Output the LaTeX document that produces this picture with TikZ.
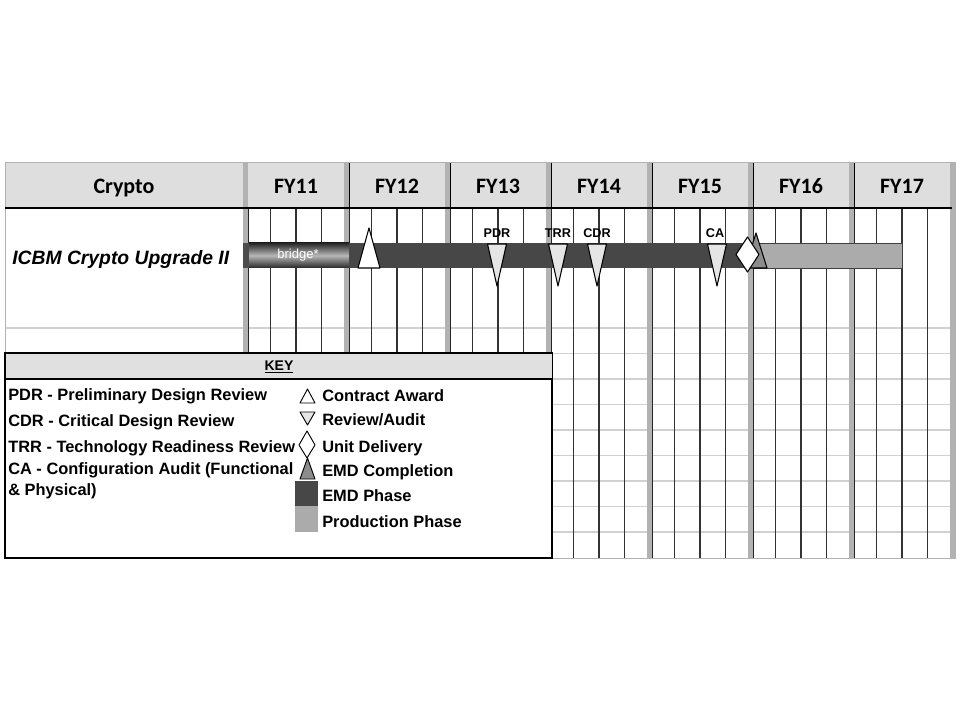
\documentclass[tikz,border=0pt]{standalone}
\usepackage{fontspec}
\setmainfont{Liberation Sans}
\newfontfamily\hdfont{Carlito}
\usepackage{tikz}

\begin{document}
\begin{tikzpicture}[x=0.75pt,y=-0.75pt,
    fytext/.style={anchor=base,font=\hdfont\fontsize{16.5}{18}\selectfont\bfseries},
    keytext/.style={anchor=base west,inner sep=0pt,font=\fontsize{12.3}{14}\selectfont\bfseries},
    mslabel/.style={font=\fontsize{9.5}{11}\selectfont\bfseries},
    review/.style={draw=black,fill=black!10,line width=0.8pt,line join=round},
    msmark/.style={draw=black,line width=0.8pt,line join=round}]
    \fill[white] (0,0) rectangle (960,720);
    \useasboundingbox (0,0) rectangle (960,720);

    \fill[black!13] (5,162) rectangle (952,208);
    \foreach \y in {328,353.5,379,404.5,430,455.5,481,506.5,532}
        \draw[black!18,line width=1.1pt] (5,\y) -- (952,\y);
    \foreach \k in {0,...,6}
        \foreach \q in {1,2,3}
            \draw[black!80,line width=0.9pt] ({245.5+101*\k+25.25*\q},208) -- ({245.5+101*\k+25.25*\q},558);
    \foreach \k in {0,...,7} {
        \fill[black!30] ({245.5+101*\k-2.5},162) rectangle ({245.5+101*\k+2.5},558);
        \draw[black!85,line width=0.9pt] ({245.5+101*\k+2.8},208) -- ({245.5+101*\k+2.8},558);
    }
    \foreach \k in {1,...,7}
        \draw[black,line width=1.1pt] ({245.5+101*\k+2.8},162) -- ({245.5+101*\k+2.8},208);
    \draw[black!30] (5,162) rectangle (955,558);
    \draw[black,line width=1.3pt] (5,208) -- (952,208);

    \node[fytext] (crypto) at (124,194) {Crypto};
    \foreach \k/\yr in {0/11,1/12,2/13,3/14,4/15,5/16,6/17}
        \node[fytext] (fy\yr) at ({296+101*\k},194) {FY\yr};
    \node[anchor=base west,inner sep=0pt,font=\fontsize{14.5}{16}\selectfont\bfseries\itshape] (icbm) at (12,265) {ICBM Crypto Upgrade II};

    \fill[black!70] (243,243) rectangle (249,268);
    \shade[top color=black!85,bottom color=black!85,middle color=black!28] (249,243) rectangle (349,268);
    \node[text=white,font=\fontsize{9.8}{11}\selectfont] (bridge) at (298,255) {bridge*};
    \fill[black!72] (349,243) rectangle (754,268);
    \draw[black!75,fill=black!33,line width=0.6pt] (754,243) rectangle (902,268);

    \draw[msmark,fill=white] (358,268) -- (369,228) -- (380,268) -- cycle;
    \foreach \x in {497,558,597,717}
        \draw[review] (\x-9.5,244) -- (\x+9.5,244) -- (\x,286) -- cycle;
    \draw[msmark,fill=black!45] (745,268) -- (756,233) -- (767,268) -- cycle;
    \draw[msmark,fill=white] (747.5,237) -- (759,254.5) -- (747.5,272) -- (736,254.5) -- cycle;
    \node[mslabel] (pdr) at (497,233) {PDR};
    \node[mslabel] (trr) at (558,233) {TRR};
    \node[mslabel] (cdr) at (597,233) {CDR};
    \node[mslabel] (ca) at (715,233) {CA};

    \draw[black,fill=white,line width=1pt] (5,353) rectangle (552,558);
    \fill[black!12] (5.5,353.5) rectangle (551.5,379);
    \draw[black,line width=1pt] (5,379) -- (552,379);
    \node[font=\fontsize{10.5}{12}\selectfont\bfseries] (key) at (279,367) {\underline{KEY}};

    \node[keytext] (pdrkey) at (8,400) {PDR - Preliminary Design Review};
    \node[keytext] (cdrkey) at (8,426) {CDR - Critical Design Review};
    \node[keytext] (trrkey) at (8,452) {TRR - Technology Readiness Review};
    \node[keytext] (cakey) at (8,474) {CA - Configuration Audit (Functional};
    \node[keytext] (cakey2) at (8,495) {\& Physical)};

    \draw[msmark,fill=white,line width=0.7pt] (300,403) -- (307.5,389) -- (315,403) -- cycle;
    \draw[review,line width=0.7pt] (300,412) -- (315,412) -- (307.5,425) -- cycle;
    \draw[msmark,fill=white,line width=0.7pt] (307,431) -- (315,445) -- (307,458) -- (299,445) -- cycle;
    \draw[msmark,fill=black!45,line width=0.7pt] (300,479) -- (307.5,458) -- (315,479) -- cycle;
    \fill[black!72] (295,481) rectangle (318,506);
    \fill[black!33] (295,506) rectangle (318,532);
    \node[keytext] (award) at (322,401) {Contract Award};
    \node[keytext] (audit) at (322,425) {Review/Audit};
    \node[keytext] (unit) at (322,452) {Unit Delivery};
    \node[keytext] (emdend) at (322,476) {EMD Completion};
    \node[keytext] (emd) at (322,501) {EMD Phase};
    \node[keytext] (prod) at (322,527) {Production Phase};
\end{tikzpicture}
\end{document}
